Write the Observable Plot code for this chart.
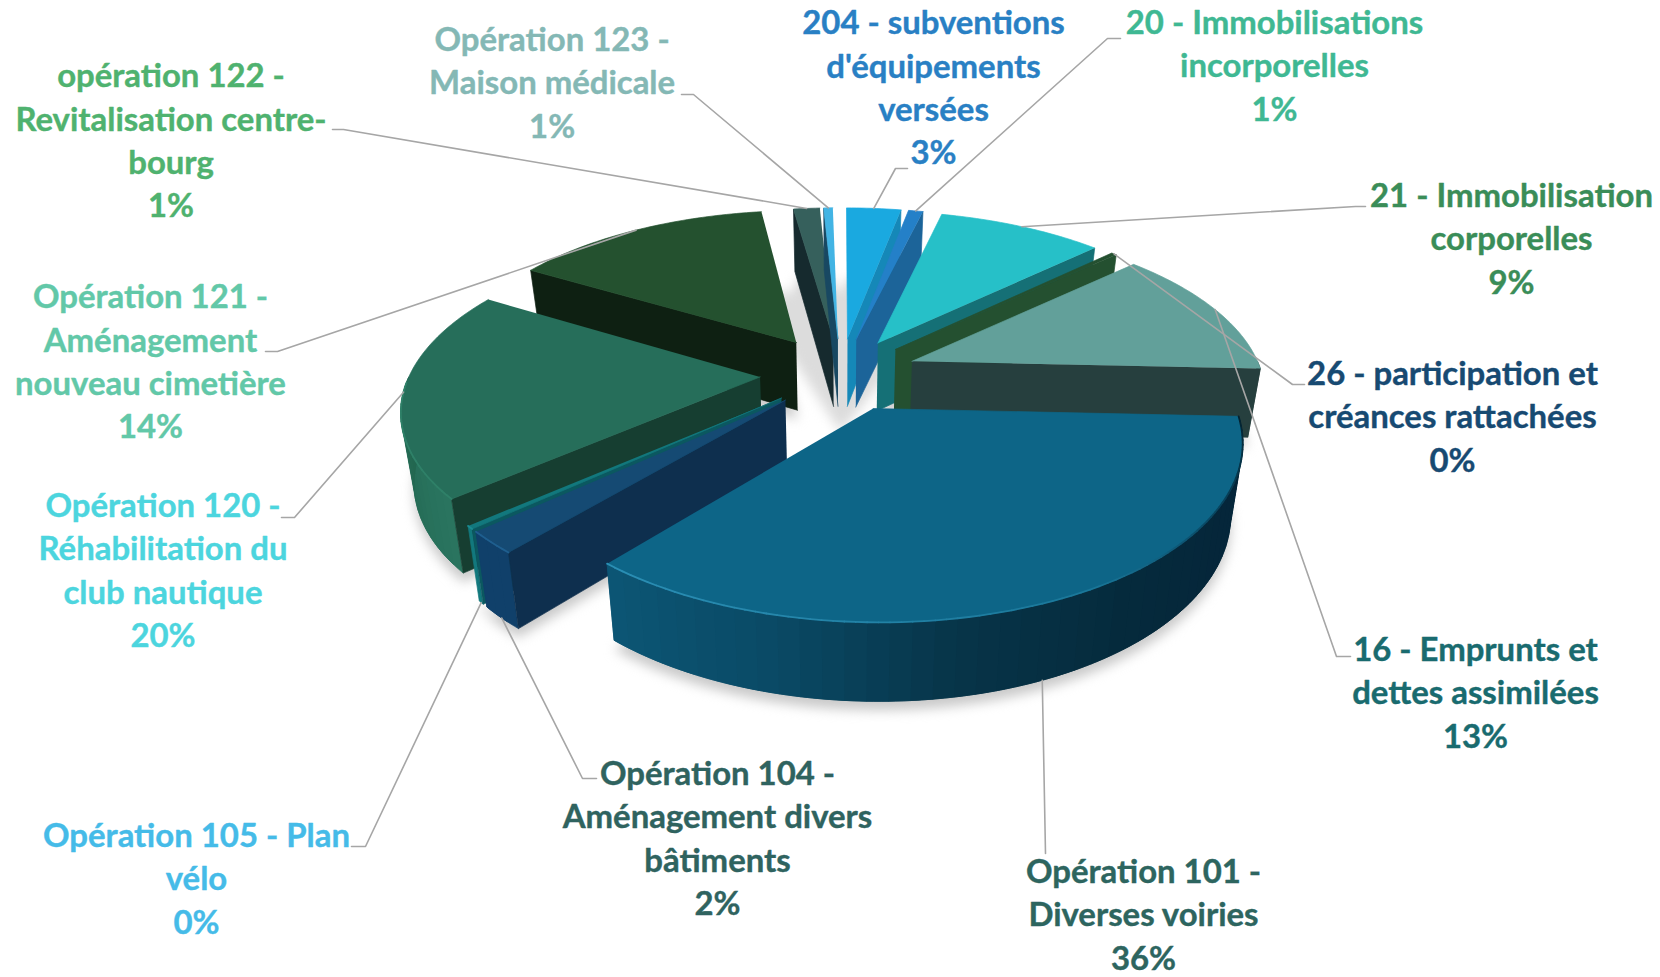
<!DOCTYPE html>
<html lang="fr"><head><meta charset="utf-8">
<style>html,body{margin:0;padding:0;background:#fff}svg{display:block}</style>
<script src="https://cdn.jsdelivr.net/npm/d3@7"></script>
<script src="https://cdn.jsdelivr.net/npm/@observablehq/plot@0.6"></script>
</head><body><div id="c"></div>
<script>
// ---- data (clockwise from 12 o'clock)
const names = ["204 - subventions\nd'équipements\nversées","20 - Immobilisations\nincorporelles","21 - Immobilisation\ncorporelles","26 - participation et\ncréances rattachées","16 - Emprunts et\ndettes assimilées","Opération 101 -\nDiverses voiries","Opération 104 -\nAménagement divers\nbâtiments","Opération 105 - Plan\nvélo","Opération 120 -\nRéhabilitation du\nclub nautique","Opération 121 -\nAménagement\nnouveau cimetière","opération 122 -\nRevitalisation centre-\nbourg","Opération 123 -\nMaison médicale"];
const shares = [3.0,0.8,9.1,0.3,12.5,35.5,2.1,0.3,19.9,14.25,1.45,0.5];
// ---- styles
const topColors  = ["#1aa9e0","#2480c8","#26c0c8","#245030","#62a09a","#0d6587","#154a73","#12787d","#266e5a","#24512f","#36605c","#42b4e4"];
const sideColors = ["#1588b8","#1c6499","#157076","#245030","#263f3e","#0d5472","#0e2f4e","#0b5860","#163e31","#0e2012","#162a2e","#184862"];
const wallStops  = [["#1588b8"],["#1c6499"],["#157076"],["#245030"],["#263f3e"],["#0c5675","#0a4a66","#073448","#052a3c","#05263a","#05263a"],["#10406a"],["#12787d"],["#236a55","#22664f","#2a7560"],["#0e2012"],["#162a2e"],["#184862"]];
const rimColors  = [null,null,null,null,null,null,"#1f5f8f","#1a8a90","#2f8068",null,null,null];
const textColors = ["#2980c4","#3fb893","#3a8d58","#174a72","#196b6f","#2d655f","#2f635f","#45bbe8","#4cd5de","#62c8a8","#4fb26f","#84b8b5"];
const paintOrder = [9,10,11,0,1,2,3,4,8,7,6,5];
// ---- layout
const labelX = [933,1274,1511,1452,1475,1143,717,196,162.5,150,170.5,551.6];
const labelY = [85,63,236,414,690,912,835.5,876,567.6,359,137.8,80];
const elbowX = [895,1107,1355,1292,1336,1045,582,365,294,277,343,693];
const elbowY = [168,38,206,384,656,853,778,846,517,351,129,94];
const tailX  = [907,1120,1365,1304,1350,1045,596,351,281,265,332,681];
const anchorOnBase = [0,0,0,0,0,1,1,1,0,0,0,0];
const anchorShift  = [0,0,0,0,0,0.6,0,0,0,0,0,0];
const explodeBy = [0.22,0.22,0.22,0.22,0.22,0.225,0.22,0.22,0.23,0.235,0.22,0.22];
const cx=840, cy=373, A=350, B=164, P=0.17, depth=69, baseX=0.97, baseY=1.04;
const rad = d => d*Math.PI/180;

const topPt = (X,Y)=>{const w=1+P*Y; return [cx+A*X/w, cy-B*Y/w];};
const basePt= (X,Y)=>{const w=1+P*Y; return [cx+A*X/w*baseX, cy-B*Y/w*baseY+depth];};

let acc=0;
const slices = shares.map((v,i)=>{
  const s=acc*3.6; acc+=v; const e=acc*3.6, m=(s+e)/2;
  return {i,s,e,m,ax:explodeBy[i]*Math.sin(rad(m)),ay:explodeBy[i]*Math.cos(rad(m))};
});
const rimPt=(sl,t)=>[sl.ax+Math.sin(rad(t)), sl.ay+Math.cos(rad(t))];
const arcAngles=(s,e,st=1)=>{const n=Math.max(1,Math.ceil((e-s)/st));return d3.range(n+1).map(k=>s+(e-s)*k/n);};

const polys=[], shadow=[], rims=[];
let pid=0;
function poly(pts,c,arr=polys){const id=pid++;pts.forEach(p=>arr.push({x:p[0],y:p[1],id,c}));}

// soft floor shadow
for(const sl of slices){
  const pts=[basePt(sl.ax,sl.ay),...arcAngles(sl.s,sl.e).map(t=>basePt(...rimPt(sl,t)))];
  poly(pts.map(p=>[p[0],p[1]+9]),"#c9c9c9",shadow);
}
{const sl={ax:0,ay:0.06};poly([basePt(0,0.06),...arcAngles(342,382).map(t=>basePt(...rimPt(sl,t)))],"#dcdcdc",shadow);}

for(const idx of paintOrder){
  const sl=slices[idx];
  const apex=[sl.ax,sl.ay];
  // outer wall, strip by strip
  const vis0=Math.max(sl.s,90), vis1=Math.min(sl.e,270);
  if(vis1>vis0){
    const n=wallStops[idx].length;
    const ramp=n>1?d3.scaleLinear().domain(d3.range(n).map(k=>sl.e-(sl.e-sl.s)*k/(n-1))).range(wallStops[idx]).interpolate(d3.interpolateRgb):()=>wallStops[idx][0];
    const as=arcAngles(vis0,vis1,3);
    // paint strips with a one-step overlap so no seam shows
    for(let k=0;k<as.length-1;k++){
      const mid=arcAngles(as[k],as[Math.min(k+2,as.length-1)],1).map(t=>rimPt(sl,t));
      poly([...mid.map(q=>topPt(...q)),...mid.slice().reverse().map(q=>basePt(...q))],ramp((as[k]+as[k+1])/2));
    }
  }
  // radial walls
  if(sl.e<180){const p=rimPt(sl,sl.e);poly([topPt(...apex),topPt(...p),basePt(...p),basePt(...apex)],sideColors[idx]);}
  if(sl.s>=180){const p=rimPt(sl,sl.s);poly([topPt(...apex),topPt(...p),basePt(...p),basePt(...apex)],sideColors[idx]);}
  // top face
  poly([topPt(...apex),...arcAngles(sl.s,sl.e).map(t=>topPt(...rimPt(sl,t)))],topColors[idx]);
  // bevel highlight on the front rim
  if(idx===5){
    const as=arcAngles(sl.s,sl.e,1.5);
    const hi=d3.scaleLinear().domain([sl.e,185,150,125,sl.s]).range(["#2b8fb5","#2484a8","#1a7799","#0a4a66","#04222f"]).interpolate(d3.interpolateRgb);
    for(let k=0;k<as.length-1;k++){const a=topPt(...rimPt(sl,as[k])),b=topPt(...rimPt(sl,as[k+1]));rims.push({x1:a[0],y1:a[1],x2:b[0],y2:b[1],c:hi(as[k])});}
  } else if(rimColors[idx]){
    const as=arcAngles(sl.s,Math.min(sl.e,268),1.5);
    for(let k=0;k<as.length-1;k++){const a=topPt(...rimPt(sl,as[k])),b=topPt(...rimPt(sl,as[k+1]));rims.push({x1:a[0],y1:a[1],x2:b[0],y2:b[1],c:rimColors[idx]});}
  }
}

const leaders=[], labels=[];
slices.forEach(sl=>{
  const i=sl.i, p=rimPt(sl,sl.m+anchorShift[i]), a=anchorOnBase[i]?basePt(...p):topPt(...p);
  [[a[0],a[1]],[elbowX[i],elbowY[i]],[tailX[i],elbowY[i]]].forEach(q=>leaders.push({x:q[0],y:q[1],i}));
  labels.push({x:labelX[i],y:labelY[i],t:names[i]+"\n"+Math.round(shares[i])+"%",c:textColors[i]});
});

const chart=Plot.plot({
  width:1660,height:977,margin:0,
  x:{domain:[0,1660],range:[0,1660],axis:null},
  y:{domain:[0,977],range:[0,977],axis:null},
  color:{type:"identity"},
  marks:[
    Plot.line(shadow,{x:"x",y:"y",z:"id",fill:"c",stroke:null,imageFilter:"blur(6px)"}),
    Plot.line(polys,{x:"x",y:"y",z:"id",fill:"c",stroke:"c",strokeWidth:0.7,strokeLinejoin:"round"}),
    Plot.link(rims,{x1:"x1",y1:"y1",x2:"x2",y2:"y2",stroke:"c",strokeWidth:1.8,strokeLinecap:"round"}),
    Plot.line(leaders,{x:"x",y:"y",z:"i",stroke:"#a6a6a6",strokeWidth:1.6}),
    Plot.text(labels,{x:"x",y:"y",text:"t",fill:"c",stroke:"c",strokeWidth:0.4,fontFamily:"Lato",fontWeight:700,fontSize:32.9,lineHeight:1.316,textAnchor:"middle"})
  ]
});
document.getElementById("c").append(chart);
</script></body></html>
